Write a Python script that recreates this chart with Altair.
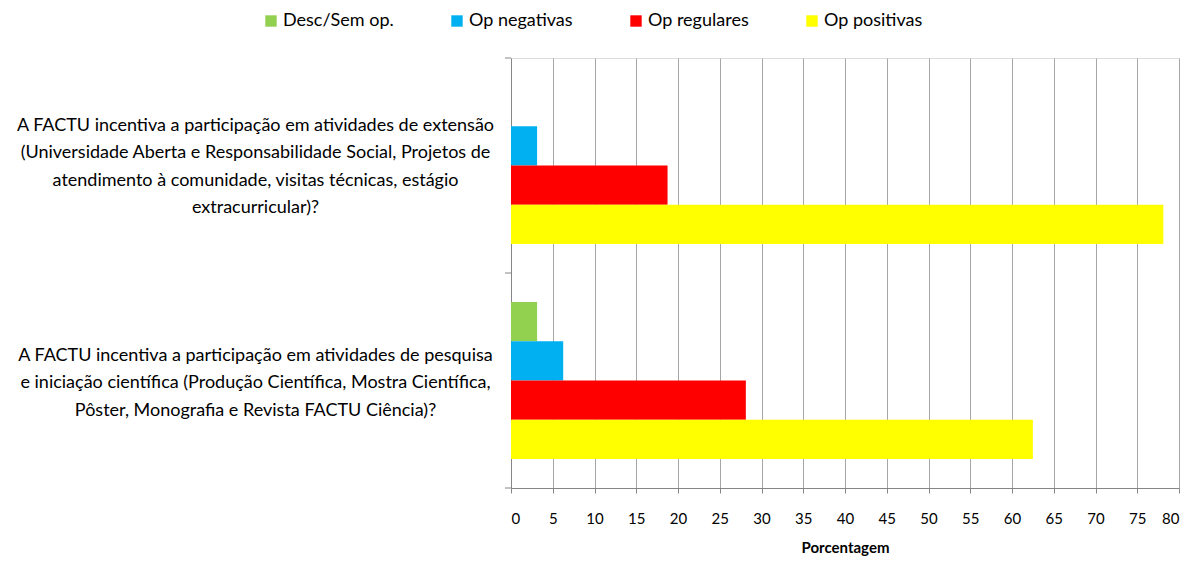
import altair as alt
import pandas as pd

questions = [
    "A FACTU incentiva a participação em atividades de extensão|(Universidade Aberta e Responsabilidade Social, Projetos de|atendimento à comunidade, visitas técnicas, estágio|extracurricular)?",
    "A FACTU incentiva a participação em atividades de pesquisa|e iniciação científica (Produção Científica, Mostra Científica,|Pôster, Monografia e Revista FACTU Ciência)?",
]
series = ["Desc/Sem op.", "Op negativas", "Op regulares", "Op positivas"]
colors = ["#92D050", "#00B0F0", "#FF0000", "#FFFF00"]
extensao = [0, 3.125, 18.75, 78.125]
pesquisa = [3.125, 6.25, 28.125, 62.5]
x_ticks = list(range(0, 85, 5))

rows = []
for s, v in zip(series, extensao):
    rows.append({"q": questions[0], "serie": s, "valor": v})
for s, v in zip(series, pesquisa):
    rows.append({"q": questions[1], "serie": s, "valor": v})
df = pd.DataFrame(rows)
qdf = pd.DataFrame({"q": questions})
qlast = pd.DataFrame({"q": questions[-1:]})

FONT = "Lato, sans-serif"

yscale = alt.Scale(domain=questions, paddingInner=0, paddingOuter=0)

bars = alt.Chart(df).mark_bar().encode(
    x=alt.X(
        "valor:Q",
        scale=alt.Scale(domain=[0, 80], nice=False),
        axis=alt.Axis(
            values=x_ticks, title="Porcentagem", grid=True, gridColor="#a6a6a6",
            gridWidth=1, domainColor="#868686", tickColor="#868686", tickSize=5,
            labelFontSize=15, labelColor="#000000", labelPadding=18, labelFont=FONT,
            titleFont=FONT, titleFontSize=15, titleFontWeight="bold", titleColor="#000000",
            titlePadding=14,
        ),
    ),
    y=alt.Y(
        "q:N",
        sort=questions,
        scale=yscale,
        axis=alt.Axis(
            title=None, ticks=False, tickSize=0, domainColor="#868686",
            labelExpr="split(datum.label, '|')", labelAlign="center",
            labelBaseline="middle", labelPadding=256, labelFontSize=18,
            labelLineHeight=27.5, labelFont=FONT, labelColor="#000000", labelLimit=0,
            labelOffset={"condition": {"test": "indexof(datum.label, 'extens') >= 0", "value": -40},
                         "value": -25},
        ),
    ),
    yOffset=alt.YOffset("serie:N", sort=series, scale=alt.Scale(domain=series, paddingInner=0, paddingOuter=0.74)),
    color=alt.Color(
        "serie:N",
        scale=alt.Scale(domain=series, range=colors),
        legend=alt.Legend(
            title=None, orient="none", legendX=-249, legendY=-46, direction="horizontal",
            columns=4, symbolType="square", symbolSize=130, symbolStrokeWidth=0,
            labelFontSize=18, labelFont=FONT, labelColor="#000000", columnPadding=54,
            labelOffset=3,
        ),
    ),
)

ticks_top = alt.Chart(qdf).mark_rule(color="#868686").encode(
    y=alt.Y("q:N", sort=questions, scale=yscale, bandPosition=0),
    x=alt.value(-6),
    x2=alt.value(0),
)
ticks_bottom = alt.Chart(qlast).mark_rule(color="#868686").encode(
    y=alt.Y("q:N", sort=questions, scale=yscale, bandPosition=1),
    x=alt.value(-6),
    x2=alt.value(0),
)

chart = alt.layer(bars, ticks_top, ticks_bottom).properties(
    width=668,
    height=430,
    autosize=alt.AutoSizeParams(type="none"),
    padding={"left": 503, "top": 50, "right": 5, "bottom": 80},
).configure_view(stroke=None).configure(background="#ffffff")

chart.save("out.html", embed_options={"renderer": "svg", "actions": False})
